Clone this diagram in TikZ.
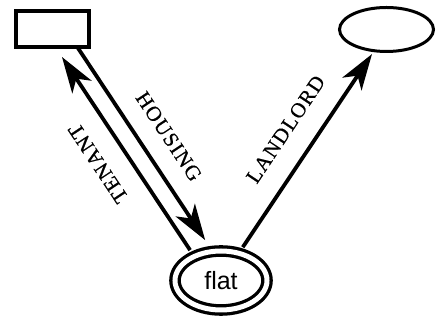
\documentclass[tikz,border=0pt]{standalone}
\usepackage{fontspec}
\setmainfont{Liberation Serif}
\newfontfamily\flatfont{Liberation Sans}
\newfontfamily\rolefont[LetterSpace=6, FakeBold=0.6]{Liberation Serif}
\usetikzlibrary{arrows.meta, shapes.geometric}
\tikzset{
    box/.style={draw, line width=3.5pt, minimum width=73pt, minimum height=36pt, inner sep=0pt, outer sep=0pt}, % rectangle at top left
    oval/.style={ellipse, draw, line width=3pt, minimum width=94pt, minimum height=44pt, inner sep=0pt, outer sep=0pt}, % plain ellipse
    flatoval/.style={ellipse, draw, line width=3.3pt, double, double distance=5pt, minimum width=92pt, minimum height=59pt, inner sep=0pt, outer sep=0pt, font=\flatfont\fontsize{25}{30}\selectfont}, % double ellipse
    link/.style={line width=3.8pt, -{Stealth[length=36pt, width=23pt, inset=10pt]}}, % thick arrows
    rel/.style={sloped, inner sep=0pt, font=\rolefont\fontsize{21}{24}\selectfont} % role names
}
\begin{document}
\begin{tikzpicture}[x=1pt, y=1pt]
    \useasboundingbox (0,0) rectangle (436,320);

    \node[box] (rect) at (52.5,291) {};
    \node[oval] (oval) at (386.5,290.5) {};
    \node[flatoval] (flat) at (221,39.5) {flat};

    \draw[link, shorten >=13.6pt] (rect.-36) -- node[rel, pos=.51, above=18pt] {HOUSING} (flat.106);
    \draw[link, shorten <=7.6pt, shorten >=12pt] (flat.138) -- node[rel, allow upside down, pos=.52, above=20pt] {TENANT} (rect.-81);
    \draw[link, shorten <=7.3pt, shorten >=4pt] (flat.57) -- node[rel, pos=.53, above=21pt] {LANDLORD} (oval.-120);
\end{tikzpicture}
\end{document}
